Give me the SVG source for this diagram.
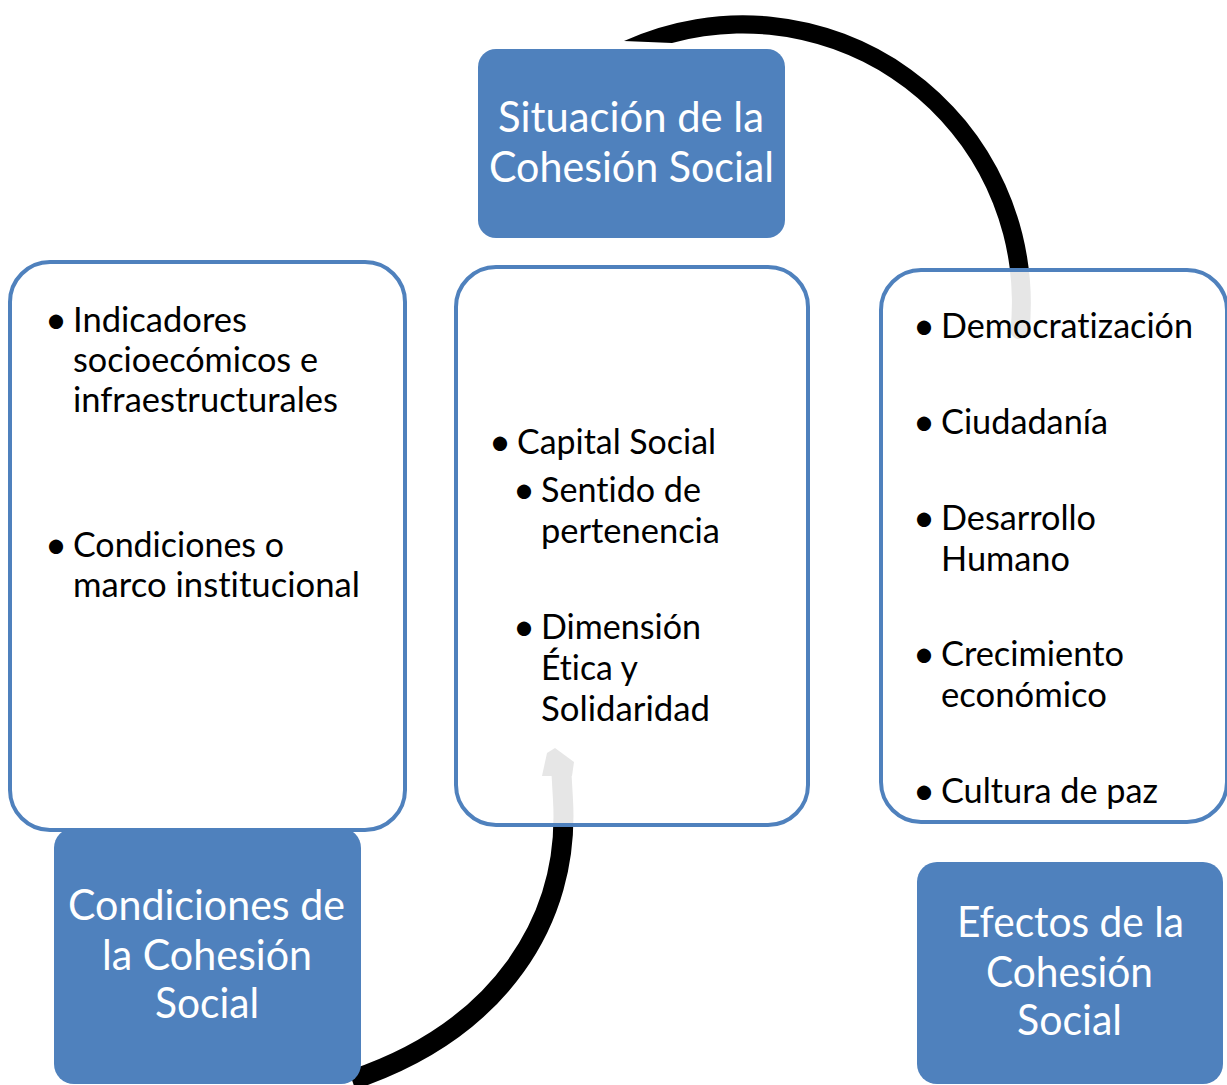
<svg xmlns="http://www.w3.org/2000/svg" width="1227" height="1085" viewBox="0 0 1227 1085">
  <style>
    .title { fill: #4f81bd; }
    .panel { fill: #ffffff; fill-opacity: 0.9; stroke: #4f81bd; stroke-width: 4; }
    .tt { font-family: Lato, "Open Sans", "Liberation Sans", sans-serif; font-size: 42px; fill: #ffffff; font-variant-ligatures: none; }
    .bt { font-family: Lato, "Open Sans", "Liberation Sans", sans-serif; font-size: 34px; fill: #000000; font-variant-ligatures: none; }
    .bu { font-family: Lato, "Open Sans", "Liberation Sans", sans-serif; font-size: 38px; fill: #000000; }
    .arrow { fill: none; stroke: #000000; stroke-width: 20; }
  </style>
  <rect width="1227" height="1085" fill="#ffffff"/>

  <g id="connectors">
    <path d="M624,41 A288,288 0 0 1 1029.4,332 A10,10 0 0 1 1010.3,332 A269,269 0 0 0 672,43 Z" fill="#000000"/>
    <path class="arrow" d="M352,1080 C500,1030 570,920 563,800 L561.4,772"/>
    <polygon points="542,776 547,753 555,748 574,762 572,776" fill="#000000"/>
  </g>

  <g id="panel-condiciones">
    <rect class="panel" x="10" y="262" width="395" height="568" rx="40"/>
    <text class="bu" x="45" y="333">•</text>
    <text class="bt" x="73" y="332" textLength="174" lengthAdjust="spacingAndGlyphs">Indicadores</text>
    <text class="bt" x="73" y="372" textLength="245" lengthAdjust="spacingAndGlyphs">socioecómicos e</text>
    <text class="bt" x="73" y="412" textLength="265" lengthAdjust="spacingAndGlyphs">infraestructurales</text>
    <text class="bu" x="45" y="558">•</text>
    <text class="bt" x="73" y="557" textLength="211" lengthAdjust="spacingAndGlyphs">Condiciones o</text>
    <text class="bt" x="73" y="597" textLength="287" lengthAdjust="spacingAndGlyphs">marco institucional</text>
  </g>

  <g id="panel-situacion">
    <rect class="panel" x="456" y="267" width="352" height="558" rx="40"/>
    <text class="bu" x="489" y="455">•</text>
    <text class="bt" x="517" y="454" textLength="199" lengthAdjust="spacingAndGlyphs">Capital Social</text>
    <text class="bu" x="513" y="503">•</text>
    <text class="bt" x="541" y="502" textLength="160" lengthAdjust="spacingAndGlyphs">Sentido de</text>
    <text class="bt" x="541" y="543" textLength="179" lengthAdjust="spacingAndGlyphs">pertenencia</text>
    <text class="bu" x="513" y="640">•</text>
    <text class="bt" x="541" y="639" textLength="160" lengthAdjust="spacingAndGlyphs">Dimensión</text>
    <text class="bt" x="541" y="680" textLength="97" lengthAdjust="spacingAndGlyphs">Ética y</text>
    <text class="bt" x="541" y="721" textLength="169" lengthAdjust="spacingAndGlyphs">Solidaridad</text>
  </g>

  <g id="panel-efectos">
    <rect class="panel" x="881" y="270" width="346" height="552" rx="40"/>
    <text class="bu" x="913" y="339">•</text>
    <text class="bt" x="941" y="338" textLength="252" lengthAdjust="spacingAndGlyphs">Democratización</text>
    <text class="bu" x="913" y="435">•</text>
    <text class="bt" x="941" y="434" textLength="167" lengthAdjust="spacingAndGlyphs">Ciudadanía</text>
    <text class="bu" x="913" y="531">•</text>
    <text class="bt" x="941" y="530" textLength="155" lengthAdjust="spacingAndGlyphs">Desarrollo</text>
    <text class="bt" x="941" y="571" textLength="129" lengthAdjust="spacingAndGlyphs">Humano</text>
    <text class="bu" x="913" y="667">•</text>
    <text class="bt" x="941" y="666" textLength="183" lengthAdjust="spacingAndGlyphs">Crecimiento</text>
    <text class="bt" x="941" y="707" textLength="166" lengthAdjust="spacingAndGlyphs">económico</text>
    <text class="bu" x="913" y="804">•</text>
    <text class="bt" x="941" y="803" textLength="217" lengthAdjust="spacingAndGlyphs">Cultura de paz</text>
  </g>

  <g id="title-situacion">
    <rect class="title" x="478" y="49" width="307" height="189" rx="18"/>
    <text class="tt" x="498" y="132" textLength="266" lengthAdjust="spacingAndGlyphs">Situación de la</text>
    <text class="tt" x="489" y="182" textLength="285" lengthAdjust="spacingAndGlyphs">Cohesión Social</text>
  </g>

  <g id="title-condiciones">
    <rect class="title" x="54" y="828" width="307" height="256" rx="20"/>
    <text class="tt" x="68" y="920" textLength="277" lengthAdjust="spacingAndGlyphs">Condiciones de</text>
    <text class="tt" x="102" y="970" textLength="210" lengthAdjust="spacingAndGlyphs">la Cohesión</text>
    <text class="tt" x="155" y="1018" textLength="104" lengthAdjust="spacingAndGlyphs">Social</text>
  </g>

  <g id="title-efectos">
    <rect class="title" x="917" y="862" width="306" height="222" rx="20"/>
    <text class="tt" x="957" y="937" textLength="227" lengthAdjust="spacingAndGlyphs">Efectos de la</text>
    <text class="tt" x="986" y="987" textLength="167" lengthAdjust="spacingAndGlyphs">Cohesión</text>
    <text class="tt" x="1017" y="1035" textLength="105" lengthAdjust="spacingAndGlyphs">Social</text>
  </g>
</svg>
